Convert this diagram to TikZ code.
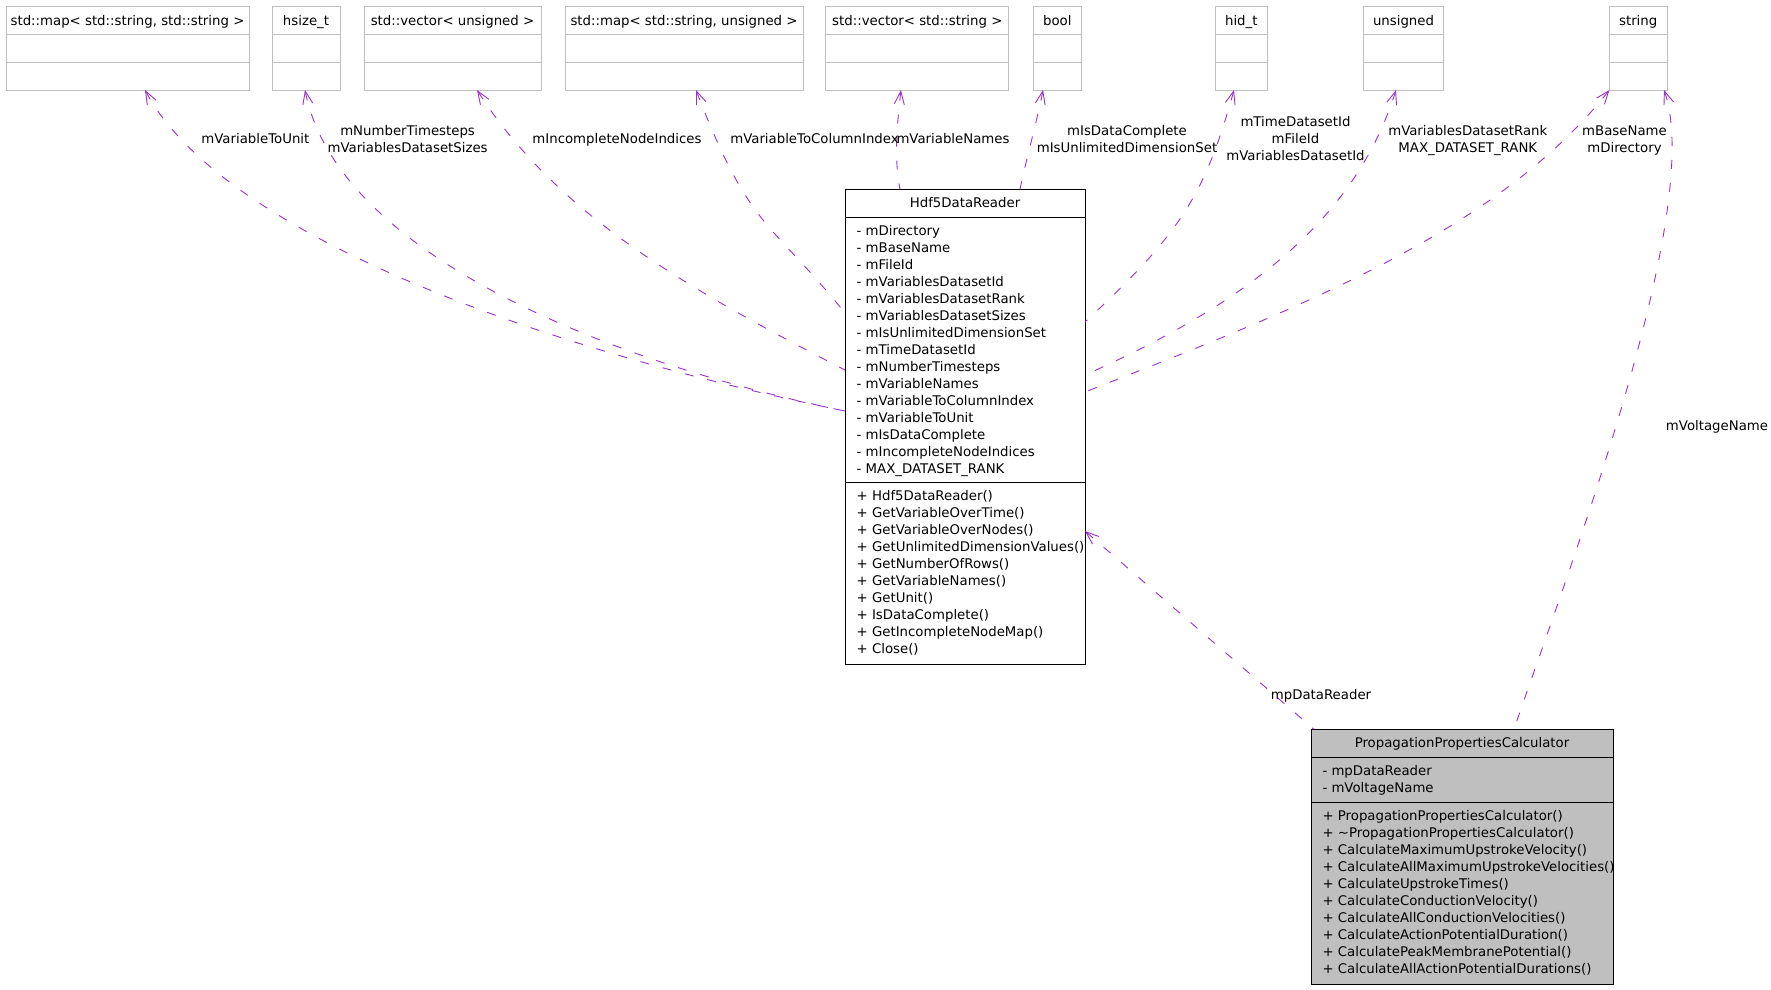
\documentclass[tikz,border=0pt]{standalone}
\usepackage{fontspec}
\setmainfont{DejaVu Sans}
\usetikzlibrary{arrows.meta}
\definecolor{edgec}{HTML}{9A32CD}
\definecolor{boxgray}{HTML}{BFBFBF}
\newcommand\dvs{\fontsize{13.3pt}{17pt}\selectfont}
\newcommand\typebox[4]{%
  \node[tbox, minimum width=#3pt] (#1) at (#2,48) {};
  \node[txt, anchor=base] (#1t) at (#2,25.3) {#4};
  \draw[boxgray, line width=1pt] ([yshift=-28pt]#1.north west) -- ([yshift=-28pt]#1.north east)
        ([yshift=-56pt]#1.north west) -- ([yshift=-56pt]#1.north east);
}
\begin{document}
\begin{tikzpicture}[x=1pt,y=-1pt,
  tbox/.style={draw=boxgray, line width=1pt, inner sep=0pt, outer sep=0pt, minimum height=84pt},
  cbox/.style={draw=black, line width=1pt, inner sep=0pt, outer sep=0pt},
  txt/.style={inner sep=0pt, font=\dvs},
  dep/.style={draw=edgec, line width=0.9pt, dash pattern=on 9pt off 14pt, {Straight Barb[length=13pt,width=10pt]}-},
]
\fill[white] (0,0) rectangle (1771,989);
\useasboundingbox (0,0) rectangle (1771,989);

% type boxes
\typebox{map1}{127.5}{243}{std::map< std::string, std::string >}
\typebox{hsize}{306}{68}{hsize\_t}
\typebox{vecu}{452.5}{177}{std::vector< unsigned >}
\typebox{mapu}{684}{238}{std::map< std::string, unsigned >}
\typebox{vecs}{917.3}{183.3}{std::vector< std::string >}
\typebox{bool}{1057.3}{47.5}{bool}
\typebox{hid}{1241.3}{52.6}{hid\_t}
\typebox{unsg}{1403.5}{80}{unsigned}
\typebox{str}{1638.2}{57.6}{string}

% Hdf5DataReader
\node[cbox, minimum width=240pt, minimum height=474.7pt] (hdf) at (965,426.65) {};
\node[txt, anchor=base] (hdft) at (965,207.1) {Hdf5DataReader};
\draw[line width=1pt] ([yshift=-28pt]hdf.north west) -- ([yshift=-28pt]hdf.north east)
      ([yshift=-293.4pt]hdf.north west) -- ([yshift=-293.4pt]hdf.north east);
\foreach \t [count=\i] in {- mDirectory, - mBaseName, - mFileId, - mVariablesDatasetId,
  - mVariablesDatasetRank, - mVariablesDatasetSizes, - mIsUnlimitedDimensionSet,
  - mTimeDatasetId, - mNumberTimesteps, - mVariableNames, - mVariableToColumnIndex,
  - mVariableToUnit, - mIsDataComplete, - mIncompleteNodeIndices, - MAX\_DATASET\_RANK}
  \node[txt, anchor=base west] (hdfa\i) at (856.5,{235.5+17*(\i-1)}) {\t};
\foreach \t [count=\i] in {+ Hdf5DataReader(), + GetVariableOverTime(), + GetVariableOverNodes(),
  + GetUnlimitedDimensionValues(), + GetNumberOfRows(), + GetVariableNames(), + GetUnit(),
  + IsDataComplete(), + GetIncompleteNodeMap(), + Close()}
  \node[txt, anchor=base west] (hdfm\i) at (856.5,{500.1+17*(\i-1)}) {\t};

% PropagationPropertiesCalculator
\node[cbox, fill=boxgray, minimum width=302pt, minimum height=255pt] (ppc) at (1462,856.8) {};
\node[txt, anchor=base] (ppct) at (1462,747.5) {PropagationPropertiesCalculator};
\draw[line width=1pt] ([yshift=-28pt]ppc.north west) -- ([yshift=-28pt]ppc.north east)
      ([yshift=-72.7pt]ppc.north west) -- ([yshift=-72.7pt]ppc.north east);
\foreach \t [count=\i] in {- mpDataReader, - mVoltageName}
  \node[txt, anchor=base west] (ppca\i) at (1322.3,{775.5+17*(\i-1)}) {\t};
\foreach \t [count=\i] in {+ PropagationPropertiesCalculator(), + \textasciitilde PropagationPropertiesCalculator(),
  + CalculateMaximumUpstrokeVelocity(), + CalculateAllMaximumUpstrokeVelocities(),
  + CalculateUpstrokeTimes(), + CalculateConductionVelocity(), + CalculateAllConductionVelocities(),
  + CalculateActionPotentialDuration(), + CalculatePeakMembranePotential(),
  + CalculateAllActionPotentialDurations()}
  \node[txt, anchor=base west] (ppcm\i) at (1322.3,{820.5+17*(\i-1)}) {\t};

% connectors
\draw[dep] ([xshift=139pt]map1.south west) .. controls (215.5,223) and (502,341) .. ([yshift=-221.7pt]hdf.north west);
\draw[dep] ([xshift=33pt]hsize.south west) .. controls (339,261) and (629,367) .. ([yshift=-221.7pt]hdf.north west);
\draw[dep] ([xshift=113pt]vecu.south west) .. controls (558,217) and (693.7,291.8) .. ([yshift=-180.7pt]hdf.north west);
\draw[dep] ([xshift=131pt]mapu.south west) .. controls (750,230.5) and (769.4,219.4) .. ([yshift=-123.7pt]hdf.north west);
\draw[dep] ([xshift=75.3pt]vecs.south west) .. controls (897,125) and (894,160) .. ([xshift=55pt]hdf.north west);
\draw[dep] ([xshift=9.5pt]bool.south west) .. controls (1036,125) and (1026,160) .. ([xshift=175pt]hdf.north west);
\draw[dep] ([xshift=19pt]hid.south west) .. controls (1204.3,196.6) and (1179.9,233.6) .. ([yshift=-132.7pt]hdf.north east);
\draw[dep] ([xshift=32.5pt]unsg.south west) .. controls (1354,224) and (1240.4,305.8) .. ([yshift=-185.7pt]hdf.north east);
\draw[dep] (str.south west) .. controls (1497.4,231.4) and (1299.1,308.3) .. ([yshift=-202.7pt]hdf.north east);
\draw[dep] ([xshift=54.6pt]str.south west) .. controls (1706.9,213.2) and (1558.8,596) .. ([xshift=203pt]ppc.north west);
\draw[dep] ([yshift=-341.7pt]hdf.north east) -- ([xshift=3pt]ppc.north west);

% labels
\node[txt, anchor=base] (l1) at (255.4,143.1) {mVariableToUnit};
\node[txt, anchor=base] (l2a) at (407.6,135.5) {mNumberTimesteps};
\node[txt, anchor=base] (l2b) at (407.6,152.5) {mVariablesDatasetSizes};
\node[txt, anchor=base] (l3) at (617,143.1) {mIncompleteNodeIndices};
\node[txt, anchor=base] (l4) at (814.5,143.1) {mVariableToColumnIndex};
\node[txt, anchor=base] (l5) at (953,143.1) {mVariableNames};
\node[txt, anchor=base] (l6a) at (1127,135.5) {mIsDataComplete};
\node[txt, anchor=base] (l6b) at (1127,152.5) {mIsUnlimitedDimensionSet};
\node[txt, anchor=base] (l7a) at (1295.5,126.3) {mTimeDatasetId};
\node[txt, anchor=base] (l7b) at (1295.5,143.3) {mFileId};
\node[txt, anchor=base] (l7c) at (1295.5,160.3) {mVariablesDatasetId};
\node[txt, anchor=base] (l8a) at (1467.8,135.5) {mVariablesDatasetRank};
\node[txt, anchor=base] (l8b) at (1467.8,152.5) {MAX\_DATASET\_RANK};
\node[txt, anchor=base] (l9a) at (1624.5,135.5) {mBaseName};
\node[txt, anchor=base] (l9b) at (1624.5,152.5) {mDirectory};
\node[txt, anchor=base] (l10) at (1717,430.1) {mVoltageName};
\node[txt, anchor=base] (l11) at (1321,699) {mpDataReader};
\end{tikzpicture}
\end{document}
